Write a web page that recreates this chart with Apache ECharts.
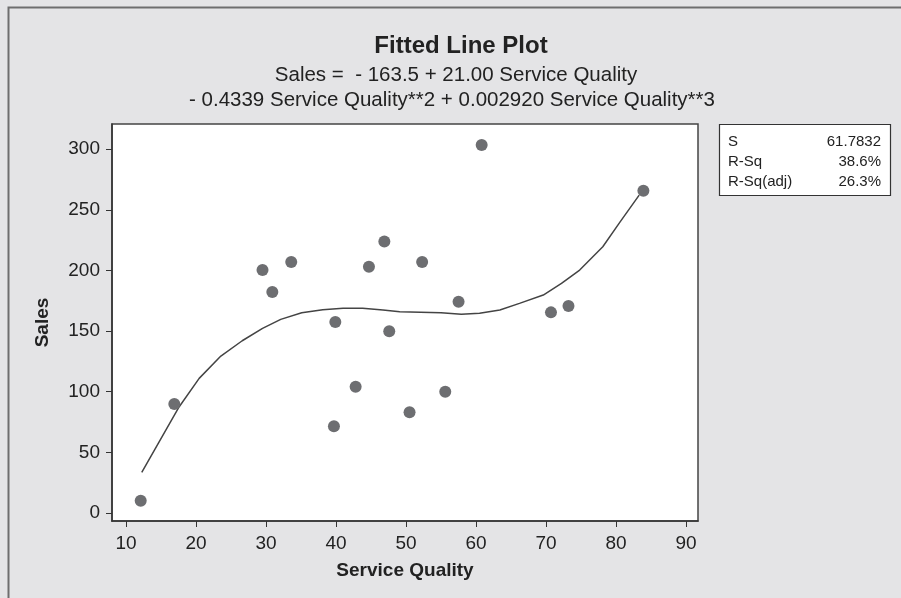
<!DOCTYPE html>
<html>
<head>
<meta charset="utf-8">
<script src="https://cdn.jsdelivr.net/npm/echarts@6/dist/echarts.min.js"></script>
<style>
html,body{margin:0;padding:0;background:#e4e4e6;}
#chart{width:901px;height:598px;}
</style>
</head>
<body>
<div id="chart"></div>
<script>
// Observed data: Service Quality (x) vs Sales (y)
var serviceQuality = [12.1, 16.9, 29.5, 30.9, 33.6, 39.9, 39.7, 42.8, 44.7, 46.9, 47.6, 50.5, 52.3, 55.6, 57.5, 60.8, 70.7, 73.2, 83.9];
var sales          = [10.1, 89.8, 200.3, 182.1, 206.9, 157.4, 71.5, 104.1, 203.0, 223.9, 149.8, 83.0, 206.9, 100.0, 174.2, 303.3, 165.4, 170.6, 265.6];

// Fitted curve vertices
var fitX = [12.25, 17.6, 20.45, 23.55, 26.6, 29.5, 32.1, 35.1, 38.1, 41.0, 43.8, 46.7, 49.1, 55.0, 57.9, 60.5, 63.4, 66.2, 69.6, 72.2, 74.8, 78.1, 80.6, 83.3];
var fitY = [33.5, 87.6, 111.0, 129.4, 142.0, 152.2, 159.6, 165.1, 167.6, 168.7, 168.7, 167.3, 165.9, 165.1, 163.8, 164.6, 167.3, 172.8, 179.7, 189.3, 200.3, 219.5, 240.2, 262.1];

// Tick labels
var xTicks = [10, 20, 30, 40, 50, 60, 70, 80, 90];
var yTicks = [0, 50, 100, 150, 200, 250, 300];

// Summary statistics
var statNames  = ['S', 'R-Sq', 'R-Sq(adj)'];
var statValues = ['61.7832', '38.6%', '26.3%'];

var titleText = 'Fitted Line Plot';
var eqLine1 = 'Sales =  - 163.5 + 21.00 Service Quality';
var eqLine2 = '- 0.4339 Service Quality**2 + 0.002920 Service Quality**3';

var FONT = '"Liberation Sans", Arial, sans-serif';

var points = serviceQuality.map(function (x, i) { return [x, sales[i]]; });
var fit = fitX.map(function (x, i) { return [x, fitY[i]]; });

var statGraphics = [{
  type: 'rect',
  shape: { x: 719.5, y: 124.5, width: 171, height: 71 },
  style: { fill: '#ffffff', stroke: '#333333', lineWidth: 1.2 }
}];
statNames.forEach(function (n, i) {
  statGraphics.push({
    type: 'text', x: 728, y: 142 + i * 20,
    style: { text: n, font: '15px ' + FONT, fill: '#222', textAlign: 'left', textVerticalAlign: 'middle' }
  });
  statGraphics.push({
    type: 'text', x: 881, y: 142 + i * 20,
    style: { text: statValues[i], font: '15px ' + FONT, fill: '#222', textAlign: 'right', textVerticalAlign: 'middle' }
  });
});

var chart = echarts.init(document.getElementById('chart'), null, { renderer: 'canvas' });
chart.setOption({
  backgroundColor: '#e4e4e6',
  animation: false,
  title: [{
    text: titleText, left: 456, top: 29, textAlign: 'center',
    textStyle: { fontFamily: FONT, fontSize: 24, fontWeight: 'bold', color: '#222' }
  }, {
    text: eqLine1, left: 451, top: 60, textAlign: 'center',
    textStyle: { fontFamily: FONT, fontSize: 20.5, fontWeight: 'normal', color: '#222' }
  }, {
    text: eqLine2, left: 447, top: 85, textAlign: 'center',
    textStyle: { fontFamily: FONT, fontSize: 20.5, fontWeight: 'normal', color: '#222', letterSpacing: 0.85 }
  }],
  grid: {
    left: 112, top: 124, right: 203, bottom: 77,
    show: true, backgroundColor: '#ffffff', borderColor: '#444', borderWidth: 1.5
  },
  xAxis: {
    type: 'value', min: 8, max: 91.7,
    name: 'Service Quality', nameLocation: 'middle', nameGap: 40,
    nameTextStyle: { fontFamily: FONT, fontSize: 19, fontWeight: 'bold', color: '#222' },
    axisLine: { show: true, onZero: false, lineStyle: { color: '#333', width: 1.5 } },
    axisTick: { show: true, length: 6, lineStyle: { color: '#333' }, customValues: xTicks },
    axisLabel: { fontFamily: FONT, fontSize: 19, color: '#222', margin: 13, customValues: xTicks },
    splitLine: { show: false }
  },
  yAxis: {
    type: 'value', min: -6.6, max: 320.7,
    name: 'Sales', nameLocation: 'middle', nameGap: 60,
    nameTextStyle: { fontFamily: FONT, fontSize: 19, fontWeight: 'bold', color: '#222' },
    axisLine: { show: true, onZero: false, lineStyle: { color: '#333', width: 1.5 } },
    axisTick: { show: true, length: 6, lineStyle: { color: '#333' }, customValues: yTicks },
    axisLabel: { fontFamily: FONT, fontSize: 19, color: '#222', margin: 12, customValues: yTicks },
    splitLine: { show: false }
  },
  series: [{
    type: 'line', data: fit, showSymbol: false, symbol: 'none', smooth: false,
    lineStyle: { color: '#444', width: 1.5 }, z: 2
  }, {
    type: 'scatter', data: points, symbol: 'circle', symbolSize: 12,
    itemStyle: { color: '#6d6e71', opacity: 1 }, z: 3
  }],
  graphic: [{
    type: 'polyline', shape: { points: [[8.5, 598], [8.5, 7.5], [901, 7.5]] },
    style: { stroke: '#6e6e6e', lineWidth: 2, fill: null }
  }].concat(statGraphics)
});
</script>
</body>
</html>
